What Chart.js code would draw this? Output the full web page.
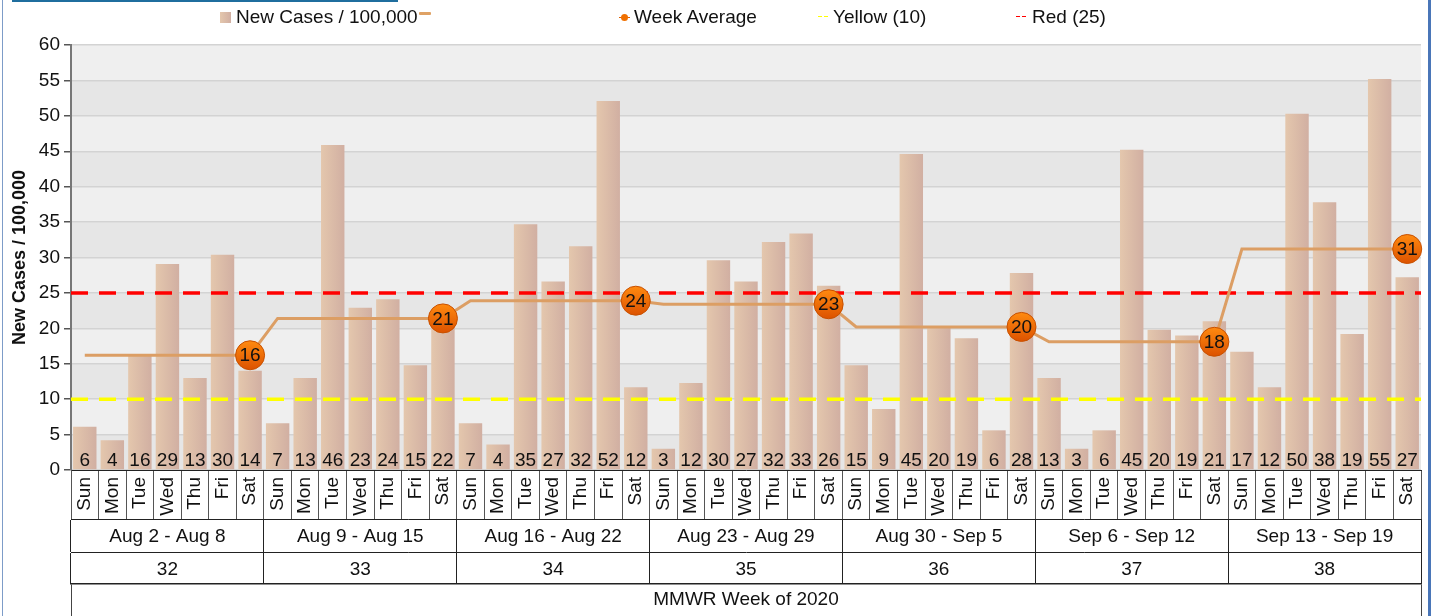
<!DOCTYPE html>
<html>
<head>
<meta charset="utf-8">
<script src="https://cdn.jsdelivr.net/npm/chart.js@4.4.1/dist/chart.umd.min.js"></script>
<style>
  html, body { margin: 0; padding: 0; background: #fff; }
  body { width: 1432px; height: 616px; position: relative; overflow: hidden; font-family: "Liberation Sans", Arial, sans-serif; }
  #chart { position: absolute; left: 0; top: 0; }
  .frame { position: absolute; }
  .lg { position: absolute; }
  .lg-text { top: 6px; font-size: 19px; line-height: 22px; color: #111; white-space: nowrap; }
</style>
</head>
<body>
<canvas id="chart" width="1432" height="616"></canvas>

<div class="frame" style="left:12px;top:0;width:386px;height:2px;background:#1f6e9e"></div>
<div class="frame" style="left:2px;top:0;width:1px;height:616px;background:#7d9cc8"></div>
<div class="frame" style="left:1428px;top:0;width:3px;height:616px;background:#4a76b8"></div>

<div class="lg" style="left:220px;top:12px;width:11px;height:11px;background:linear-gradient(90deg,#e4c7ad,#d1afa2)"></div>
<div class="lg lg-text" style="left:236px">New Cases / 100,000</div>
<div class="lg" style="left:419px;top:12px;width:12px;height:3px;background:#dfa265;border-radius:1px"></div>
<div class="lg" style="left:619px;top:17px;width:11px;height:1px;background:#e06000"></div>
<div class="lg" style="left:621px;top:14px;width:7px;height:7px;border-radius:50%;background:#f07000"></div>
<div class="lg lg-text" style="left:634px">Week Average</div>
<div class="lg" style="left:818px;top:16px;width:4px;height:1px;background:#ffff00"></div>
<div class="lg" style="left:824px;top:16px;width:4px;height:1px;background:#ffff00"></div>
<div class="lg lg-text" style="left:833px">Yellow (10)</div>
<div class="lg" style="left:1016px;top:16px;width:4px;height:1px;background:#ff0000"></div>
<div class="lg" style="left:1022px;top:16px;width:4px;height:1px;background:#ff0000"></div>
<div class="lg lg-text" style="left:1032px">Red (25)</div>

<script>
const days = ['Sun', 'Mon', 'Tue', 'Wed', 'Thu', 'Fri', 'Sat']
const weekRanges = ['Aug 2 - Aug 8', 'Aug 9 - Aug 15', 'Aug 16 - Aug 22', 'Aug 23 - Aug 29',
                    'Aug 30 - Sep 5', 'Sep 6 - Sep 12', 'Sep 13 - Sep 19']
const mmwrWeeks = ['32', '33', '34', '35', '36', '37', '38']

// daily new cases per 100,000, one row per week
const newCases = [
    6.1, 4.2, 16.2, 29.1, 13.0, 30.4, 14.0,
    6.6, 13.0, 45.9, 22.9, 24.1, 14.8, 21.8,
    6.6, 3.6, 34.7, 26.6, 31.6, 52.1, 11.7,
    3.0, 12.3, 29.6, 26.6, 32.2, 33.4, 26.0,
    14.8, 8.6, 44.6, 20.3, 18.6, 5.6, 27.8,
    13.0, 3.0, 5.6, 45.2, 19.8, 19.0, 21.0,
    16.7, 11.7, 50.3, 37.8, 19.2, 55.2, 27.2
]
const weekAverage = [16.2, 21.4, 23.9, 23.4, 20.2, 18.1, 31.2]

const thresholds = [10, 25]
const thresholdColors = ['#ffff00', '#ff0000']

const yMin = 0
const yMax = 60
const yStep = 5

const FONT = '"Liberation Sans", Arial, sans-serif'
const dayLabels = weekRanges.flatMap(() => days)
const avgLine = weekAverage.flatMap(v => days.map(() => v))

const chartDecor = {
    id: 'chartDecor',
    beforeDraw(chart) {
        const {ctx, chartArea} = chart
        const y = chart.scales.y
        ctx.save()
        for (let v = yMin, k = 0; v < yMax; v += yStep, k++) {
            const top = y.getPixelForValue(v + yStep)
            const bottom = y.getPixelForValue(v)
            ctx.fillStyle = k % 2 ? '#efefef' : '#e6e6e6'
            ctx.fillRect(chartArea.left, top, chartArea.right - chartArea.left, bottom - top)
        }
        ctx.restore()
    },
    beforeDatasetsDraw(chart) {
        const ctx = chart.ctx
        chart.getDatasetMeta(0).data.forEach(bar => {
            const g = ctx.createLinearGradient(bar.x - bar.width / 2, 0, bar.x + bar.width / 2, 0)
            g.addColorStop(0, '#e4c7ad')
            g.addColorStop(1, '#d1afa2')
            bar.options = Object.assign({}, bar.options, { backgroundColor: g })
        })
        chart.getDatasetMeta(1).data.forEach(pt => {
            const r = pt.options.radius
            if (!r) return
            const g = ctx.createLinearGradient(0, pt.y - r, 0, pt.y + r)
            g.addColorStop(0, '#ff8a10')
            g.addColorStop(1, '#dc5200')
            pt.options = Object.assign({}, pt.options, { backgroundColor: g })
        })
    },
    afterDatasetDraw(chart, args) {
        if (args.index !== 0) return
        const {ctx, chartArea} = chart
        const y = chart.scales.y
        ctx.save()
        ctx.lineWidth = 3.5
        ctx.setLineDash([17, 11])
        thresholds.forEach((t, i) => {
            const py = y.getPixelForValue(t)
            ctx.strokeStyle = thresholdColors[i]
            ctx.beginPath()
            ctx.moveTo(chartArea.left, py)
            ctx.lineTo(chartArea.right, py)
            ctx.stroke()
        })
        ctx.setLineDash([])
        ctx.fillStyle = '#111'
        ctx.font = '19px ' + FONT
        ctx.textAlign = 'center'
        ctx.textBaseline = 'alphabetic'
        args.meta.data.forEach((bar, i) => {
            ctx.fillText(String(Math.round(newCases[i])), bar.x, chartArea.bottom - 4.5)
        })
        ctx.restore()
    },
    afterDatasetsDraw(chart) {
        const ctx = chart.ctx
        ctx.save()
        ctx.fillStyle = '#111'
        ctx.font = '19px ' + FONT
        ctx.textAlign = 'center'
        ctx.textBaseline = 'middle'
        chart.getDatasetMeta(1).data.forEach((pt, i) => {
            if (i % 7 !== 6) return
            ctx.fillText(String(Math.round(weekAverage[(i - 6) / 7])), pt.x, pt.y + 1)
        })
        ctx.restore()
    }
}

const tickFont = { size: 19, family: FONT }

new Chart(document.getElementById('chart'), {
    type: 'bar',
    data: {
        labels: dayLabels,
        datasets: [{
            type: 'bar',
            label: 'New Cases / 100,000',
            data: newCases,
            backgroundColor: '#dbbba8',
            categoryPercentage: 1,
            barPercentage: 0.85,
            order: 2
        }, {
            type: 'line',
            label: 'Week Average',
            data: avgLine,
            borderColor: '#dc9e64',
            borderWidth: 3,
            tension: 0,
            pointRadius: c => (c.dataIndex % 7 === 6 ? 14.5 : 0),
            pointBackgroundColor: '#f07000',
            pointBorderColor: '#c85000',
            pointBorderWidth: 1,
            order: 1
        }]
    },
    options: {
        responsive: false,
        animation: false,
        events: [],
        layout: { autoPadding: false, padding: { left: 0, right: 11, top: 45, bottom: 0 } },
        plugins: {
            legend: { display: false },
            tooltip: { enabled: false }
        },
        scales: {
            x: {
                type: 'category',
                position: 'bottom',
                weight: 0,
                offset: true,
                grid: { offset: true, drawOnChartArea: false, tickLength: 49, color: '#555', lineWidth: 1 },
                border: { display: true, color: '#222', width: 1 },
                ticks: { autoSkip: false, minRotation: 90, maxRotation: 90, padding: -42, font: tickFont, color: '#111' },
                afterFit: s => { s.height = 49 }
            },
            x2: {
                type: 'category',
                labels: weekRanges,
                position: 'bottom',
                weight: 1,
                offset: true,
                grid: { offset: true, drawOnChartArea: false, tickLength: 33, color: '#222', lineWidth: 1 },
                border: { display: true, color: '#222', width: 1 },
                ticks: { autoSkip: false, maxRotation: 0, padding: -27, font: tickFont, color: '#111' },
                afterFit: s => { s.height = 33 }
            },
            x3: {
                type: 'category',
                labels: mmwrWeeks,
                position: 'bottom',
                weight: 2,
                offset: true,
                grid: { offset: true, drawOnChartArea: false, tickLength: 32, color: '#222', lineWidth: 1 },
                border: { display: true, color: '#222', width: 1 },
                ticks: { autoSkip: false, maxRotation: 0, padding: -26, font: tickFont, color: '#111' },
                afterFit: s => { s.height = 32 }
            },
            x4: {
                type: 'category',
                labels: [''],
                position: 'bottom',
                weight: 3,
                offset: true,
                grid: { offset: true, drawOnChartArea: false, tickLength: 32, color: '#444', lineWidth: 1 },
                border: { display: true, color: '#222', width: 1.5 },
                ticks: { maxRotation: 0, padding: 0, font: tickFont, color: '#111' },
                title: { display: true, text: 'MMWR Week of 2020', font: tickFont, color: '#111', padding: { top: 0, bottom: 5 } },
                afterFit: s => { s.height = 32 }
            },
            y: {
                min: yMin,
                max: yMax,
                ticks: { stepSize: yStep, padding: 4, font: tickFont, color: '#111' },
                grid: { color: '#d3d3d3', lineWidth: 1.5, tickLength: 7, tickColor: '#555' },
                border: { display: true, color: '#777', width: 2 },
                title: {
                    display: true,
                    text: 'New Cases / 100,000',
                    font: { size: 18, weight: 'bold', family: FONT },
                    color: '#111',
                    padding: { top: 9, bottom: 0 }
                },
                afterFit: s => { s.width = 71 }
            }
        }
    },
    plugins: [chartDecor]
})
</script>
</body>
</html>
